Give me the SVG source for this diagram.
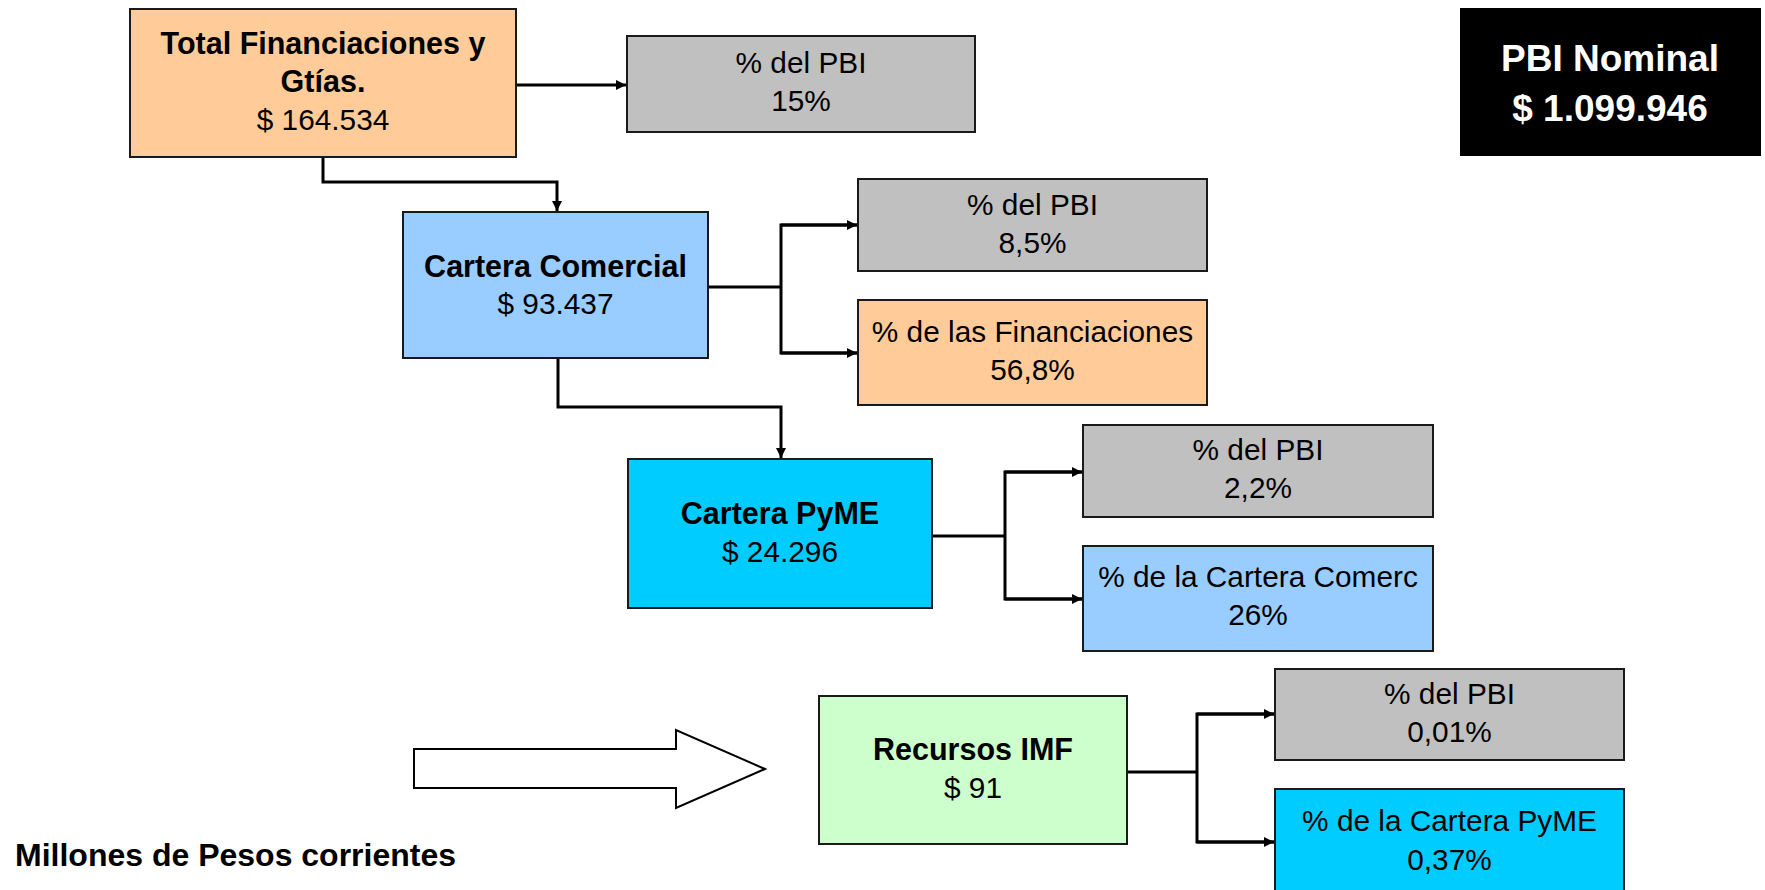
<svg xmlns="http://www.w3.org/2000/svg" width="1765" height="890" viewBox="0 0 1765 890">
<style>
.box{stroke:#1a1a1a;stroke-width:2}
.t{font-family:"Liberation Sans",Arial,sans-serif;font-size:29.8px;text-anchor:middle;fill:#000}
.b{font-weight:bold;font-size:30.5px}
.w{fill:#fff;font-size:37px;font-weight:bold}
.c{fill:none;stroke:#000;stroke-width:3}
</style>
<defs>
<marker id="ah" viewBox="0 0 10 10" refX="10" refY="5" markerWidth="10" markerHeight="10" markerUnits="userSpaceOnUse" orient="auto">
<path d="M0,0 L10,5 L0,10 z" fill="#000"/>
</marker>
</defs>
<rect width="1765" height="890" fill="#fff"/>
<g id="connectors">
<path class="c" d="M516,85 H626" marker-end="url(#ah)"/>
<path class="c" d="M323,157 V182 H557 V211" marker-end="url(#ah)"/>
<path class="c" d="M708,287 H781"/>
<path class="c" d="M857,225 H781 V353 H857"/>
<path class="c" d="M781,225 H857" marker-end="url(#ah)"/>
<path class="c" d="M781,353 H857" marker-end="url(#ah)"/>
<path class="c" d="M558,358 V407 H781 V458" marker-end="url(#ah)"/>
<path class="c" d="M932,536 H1005"/>
<path class="c" d="M1082,472 H1005 V599 H1082"/>
<path class="c" d="M1005,472 H1082" marker-end="url(#ah)"/>
<path class="c" d="M1005,599 H1082" marker-end="url(#ah)"/>
<path class="c" d="M1127,772 H1197"/>
<path class="c" d="M1274,714 H1197 V842 H1274"/>
<path class="c" d="M1197,714 H1274" marker-end="url(#ah)"/>
<path class="c" d="M1197,842 H1274" marker-end="url(#ah)"/>
</g>
<g id="total">
<rect class="box" x="130" y="9" width="386" height="148" fill="#FFCC99"/>
<text class="t b" x="323" y="54">Total Financiaciones y</text>
<text class="t b" x="323" y="92">Gtías.</text>
<text class="t" x="323" y="130">$ 164.534</text>
</g>
<g id="pbi1">
<rect class="box" x="627" y="36" width="348" height="96" fill="#C0C0C0"/>
<text class="t" x="801" y="73">% del PBI</text>
<text class="t" x="801" y="111">15%</text>
</g>
<g id="pbinominal">
<rect x="1460" y="8" width="301" height="148" fill="#000"/>
<text class="t w" x="1610" y="71">PBI Nominal</text>
<text class="t w" x="1610" y="121">$ 1.099.946</text>
</g>
<g id="comercial">
<rect class="box" x="403" y="212" width="305" height="146" fill="#99CCFF"/>
<text class="t b" x="555.5" y="277">Cartera Comercial</text>
<text class="t" x="555.5" y="314">$ 93.437</text>
</g>
<g id="pbi2">
<rect class="box" x="858" y="179" width="349" height="92" fill="#C0C0C0"/>
<text class="t" x="1032.5" y="215">% del PBI</text>
<text class="t" x="1032.5" y="253">8,5%</text>
</g>
<g id="financ">
<rect class="box" x="858" y="300" width="349" height="105" fill="#FFCC99"/>
<text class="t" x="1032.5" y="342">% de las Financiaciones</text>
<text class="t" x="1032.5" y="380">56,8%</text>
</g>
<g id="pyme">
<rect class="box" x="628" y="459" width="304" height="149" fill="#00CCFF"/>
<text class="t b" x="780" y="524">Cartera PyME</text>
<text class="t" x="780" y="562">$ 24.296</text>
</g>
<g id="pbi3">
<rect class="box" x="1083" y="425" width="350" height="92" fill="#C0C0C0"/>
<text class="t" x="1258" y="460">% del PBI</text>
<text class="t" x="1258" y="498">2,2%</text>
</g>
<g id="comerc">
<rect class="box" x="1083" y="546" width="350" height="105" fill="#99CCFF"/>
<text class="t" x="1258" y="587">% de la Cartera Comerc</text>
<text class="t" x="1258" y="625">26%</text>
</g>
<g id="bigarrow">
<polygon points="414,749 676,749 676,730 765,769 676,808 676,788 414,788" fill="#fff" stroke="#000" stroke-width="2"/>
</g>
<g id="imf">
<rect class="box" x="819" y="696" width="308" height="148" fill="#CCFFCC"/>
<text class="t b" x="973" y="760">Recursos IMF</text>
<text class="t" x="973" y="798">$ 91</text>
</g>
<g id="pbi4">
<rect class="box" x="1275" y="669" width="349" height="91" fill="#C0C0C0"/>
<text class="t" x="1449.5" y="704">% del PBI</text>
<text class="t" x="1449.5" y="742">0,01%</text>
</g>
<g id="carterapyme">
<rect class="box" x="1275" y="789" width="349" height="110" fill="#00CCFF"/>
<text class="t" x="1449.5" y="831">% de la Cartera PyME</text>
<text class="t" x="1449.5" y="870">0,37%</text>
</g>
<g id="note">
<text class="t b" x="15" y="866" style="text-anchor:start;font-size:32px">Millones de Pesos corrientes</text>
</g>
</svg>
